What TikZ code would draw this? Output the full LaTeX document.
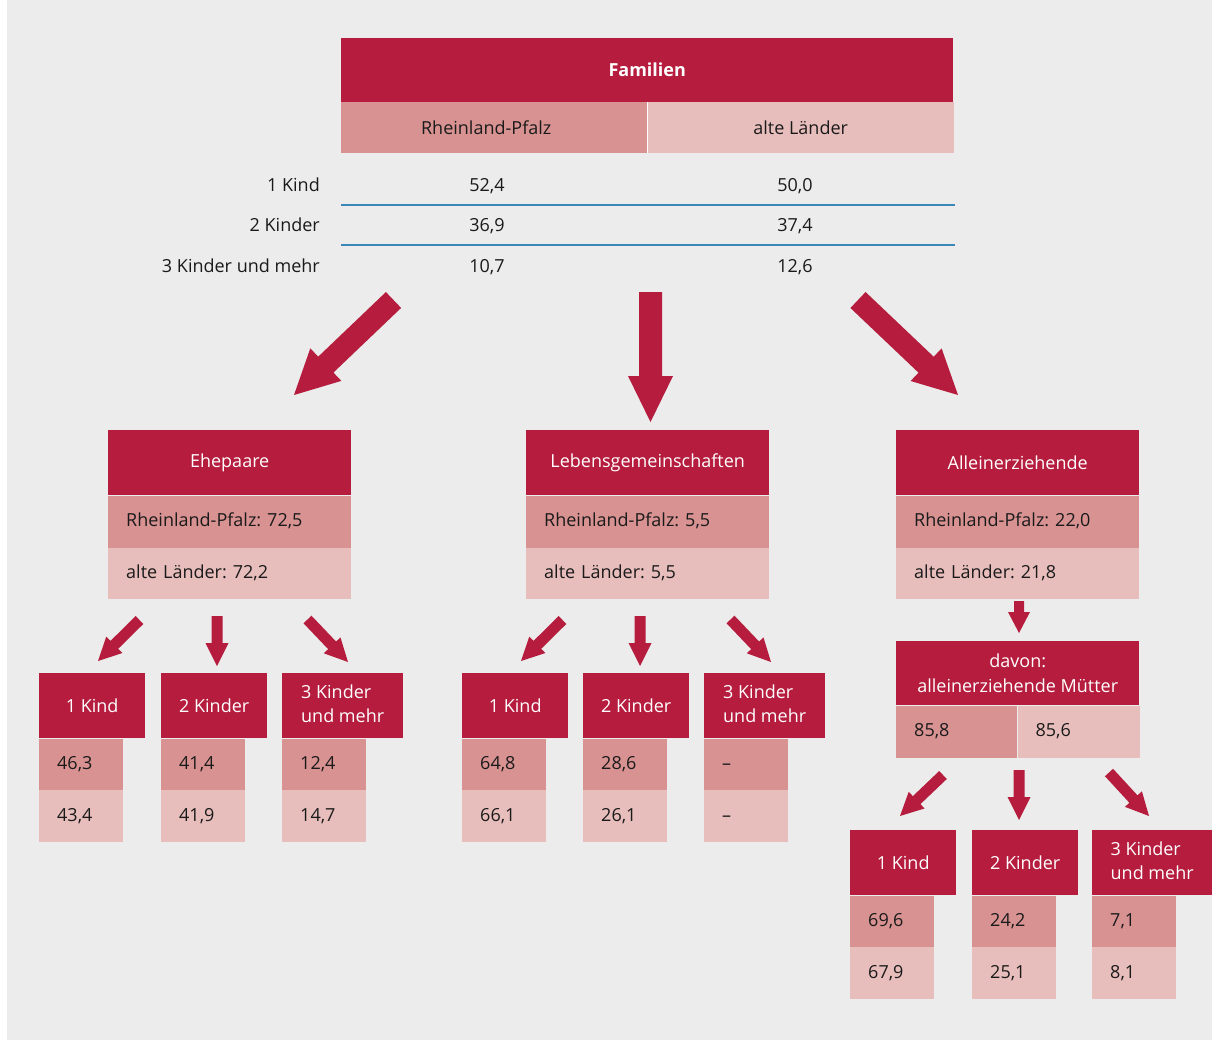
\documentclass[tikz,border=0pt]{standalone}
\usepackage{fontspec}
\setmainfont{Open Sans}
\usetikzlibrary{calc}
\definecolor{dred}{HTML}{B51C3D}
\definecolor{mpink}{HTML}{D99292}
\definecolor{lpink}{HTML}{E8BEBC}
\definecolor{bggray}{HTML}{ECECEC}
\definecolor{rulecol}{HTML}{3A87B8}
\definecolor{ink}{HTML}{1A1A1A}
\frenchspacing
\newcommand\fsz{\fontsize{18}{25}\selectfont}
\newcommand\fatarrow[5]{%
  \coordinate (fa-h) at ($(#2)!#5!(#1)$);
  \fill[dred] ($(#1)!#3!90:(#2)$) -- ($(fa-h)!#3!90:(#2)$) -- ($(fa-h)!#4!90:(#2)$) -- (#2)
    -- ($(fa-h)!#4!-90:(#2)$) -- ($(fa-h)!#3!-90:(#2)$) -- ($(#1)!#3!-90:(#2)$) -- cycle;}
\tikzset{
  every node/.style={font=\fsz, text=ink},
  hdr/.style={anchor=north west, fill=dred, text=white, inner sep=0pt, align=center},
  colm/.style={anchor=north west, fill=mpink, inner sep=0pt, align=center},
  coll/.style={anchor=north west, fill=lpink, inner sep=0pt, align=center},
  rowm/.style={anchor=north west, fill=mpink, inner xsep=18pt, inner ysep=0pt, text width=207pt, minimum height=52pt, align=left, text height=1.2em, text depth=0.2em},
  rowl/.style={rowm, fill=lpink, minimum height=51pt},
  valm/.style={anchor=north west, fill=mpink, inner xsep=18pt, inner ysep=0pt, text width=48pt, minimum height=51pt, align=left, text height=1.2em, text depth=0.2em},
  vall/.style={valm, fill=lpink, minimum height=52pt},
  lab/.style={anchor=base east, inner sep=0pt},
  num/.style={anchor=base, inner sep=0pt},
  tabrule/.style={draw=rulecol, line width=1.6pt}
}
\newcommand\smgrp[7]{%
  \node[hdr, minimum width=#4pt, minimum height=65pt] (#1) at (#2,#3) {#5};
  \node[valm] (#1-a) at (#1.south west) {#6};
  \node[vall] (#1-b) at (#1-a.south west) {#7};}
\begin{document}
\begin{tikzpicture}[x=1pt, y=-1pt]
\useasboundingbox (0,0) rectangle (1212,1041);
\fill[white] (0,0) rectangle (1212,1041);
\fill[bggray] (7,0) rectangle (1212,1040);

% top table
\node[hdr, minimum width=612pt, minimum height=64pt, font=\fsz\bfseries] (fam) at (341,38) {Familien};
\node[colm, minimum width=306pt, minimum height=51pt] (trp) at (341,102) {Rheinland-Pfalz\hspace*{16pt}};
\node[coll, minimum width=307pt, minimum height=51pt] (tal) at (647,102) {alte Länder};
\draw[white, line width=1.5pt] (trp.north east) -- (trp.south east);

\node[lab] (r1) at (320,191.5) {1 Kind};
\node[lab] (r2) at (320,231.5) {2 Kinder};
\node[lab] (r3) at (320,272.5) {3 Kinder und mehr};
\node[num] (r1a) at (487,191.5) {52,4};
\node[num] (r1b) at (795,191.5) {50,0};
\node[num] (r2a) at (487,231.5) {36,9};
\node[num] (r2b) at (795,231.5) {37,4};
\node[num] (r3a) at (487,272.5) {10,7};
\node[num] (r3b) at (795,272.5) {12,6};
\coordinate (ru1a) at (341,205); \coordinate (ru1b) at (955,205);
\coordinate (ru2a) at (341,245); \coordinate (ru2b) at (955,245);
\draw[tabrule] (ru1a) -- (ru1b);
\draw[tabrule] (ru2a) -- (ru2b);

% big arrows
\coordinate (ba1s) at (393.5,300); \coordinate (ba1e) at (294,395);
\coordinate (ba2s) at (650.5,292); \coordinate (ba2e) at (650.5,422);
\coordinate (ba3s) at (858,300);   \coordinate (ba3e) at (958,395);
\fatarrow{ba1s}{ba1e}{11pt}{22.5pt}{44pt}
\fatarrow{ba2s}{ba2e}{11.5pt}{22.5pt}{46pt}
\fatarrow{ba3s}{ba3e}{11pt}{22.5pt}{44pt}

% middle boxes
\node[hdr, minimum width=243pt, minimum height=65pt] (ehe) at (108,430) {Ehepaare};
\node[rowm] (ehe-rp) at (ehe.south west) {Rheinland-Pfalz: 72,5};
\node[rowl] (ehe-al) at (ehe-rp.south west) {alte Länder: 72,2};

\node[hdr, minimum width=243pt, minimum height=65pt] (leb) at (526,430) {Lebensgemeinschaften};
\node[rowm] (leb-rp) at (leb.south west) {Rheinland-Pfalz: 5,5};
\node[rowl] (leb-al) at (leb-rp.south west) {alte Länder: 5,5};

\node[hdr, minimum width=243pt, minimum height=65pt] (all) at (896,430) {Alleinerziehende};
\node[rowm] (all-rp) at (all.south west) {Rheinland-Pfalz: 22,0};
\node[rowl] (all-al) at (all-rp.south west) {alte Länder: 21,8};

% small arrows Ehepaare
\coordinate (ea1s) at (139.5,620); \coordinate (ea1e) at (98,661);
\coordinate (ea2s) at (217,616);   \coordinate (ea2e) at (217,666);
\coordinate (ea3s) at (307.5,619.5); \coordinate (ea3e) at (348,662);
\fatarrow{ea1s}{ea1e}{5.5pt}{11.5pt}{23pt}
\fatarrow{ea2s}{ea2e}{5.5pt}{11.5pt}{23pt}
\fatarrow{ea3s}{ea3e}{5.5pt}{11.5pt}{23pt}

% small arrows Lebensgemeinschaften
\coordinate (la1s) at (562.5,620); \coordinate (la1e) at (521,661);
\coordinate (la2s) at (640,616);   \coordinate (la2e) at (640,666);
\coordinate (la3s) at (730.5,619.5); \coordinate (la3e) at (771,662);
\fatarrow{la1s}{la1e}{5.5pt}{11.5pt}{23pt}
\fatarrow{la2s}{la2e}{5.5pt}{11.5pt}{23pt}
\fatarrow{la3s}{la3e}{5.5pt}{11.5pt}{23pt}

% arrow to davon
\coordinate (ada) at (1019,601); \coordinate (adb) at (1019,633);
\fatarrow{ada}{adb}{5pt}{11pt}{21pt}

% davon box
\node[hdr, minimum width=243pt, minimum height=64pt] (dav) at (896,641) {davon:\\alleinerziehende Mütter};
\node[valm, text width=85pt, minimum height=52pt] (dav-a) at (dav.south west) {85,8};
\node[vall, text width=86pt, minimum height=52pt] (dav-b) at (dav-a.north east) {85,6};

% small arrows davon
\coordinate (da1s) at (943,775);   \coordinate (da1e) at (900,816);
\coordinate (da2s) at (1019,770);  \coordinate (da2e) at (1019,820);
\coordinate (da3s) at (1109,772.5); \coordinate (da3e) at (1149,816);
\fatarrow{da1s}{da1e}{5.5pt}{11.5pt}{23pt}
\fatarrow{da2s}{da2e}{5.5pt}{11.5pt}{23pt}
\fatarrow{da3s}{da3e}{5.5pt}{11.5pt}{23pt}

% small groups
\smgrp{e1}{39}{673}{106}{1 Kind}{46,3}{43,4}
\smgrp{e2}{161}{673}{106}{2 Kinder}{41,4}{41,9}
\smgrp{e3}{282}{673}{121}{\begin{tabular}{@{}l@{}}3 Kinder\\[-1pt]und mehr\end{tabular}}{12,4}{14,7}

\smgrp{l1}{462}{673}{106}{1 Kind}{64,8}{66,1}
\smgrp{l2}{583}{673}{106}{2 Kinder}{28,6}{26,1}
\smgrp{l3}{704}{673}{121}{\begin{tabular}{@{}l@{}}3 Kinder\\[-1pt]und mehr\end{tabular}}{–}{–}

\smgrp{m1}{850}{830}{106}{1 Kind}{69,6}{67,9}
\smgrp{m2}{972}{830}{106}{2 Kinder}{24,2}{25,1}
\smgrp{m3}{1092}{830}{120}{\begin{tabular}{@{}l@{}}3 Kinder\\[-1pt]und mehr\end{tabular}}{7,1}{8,1}
\end{tikzpicture}
\end{document}
